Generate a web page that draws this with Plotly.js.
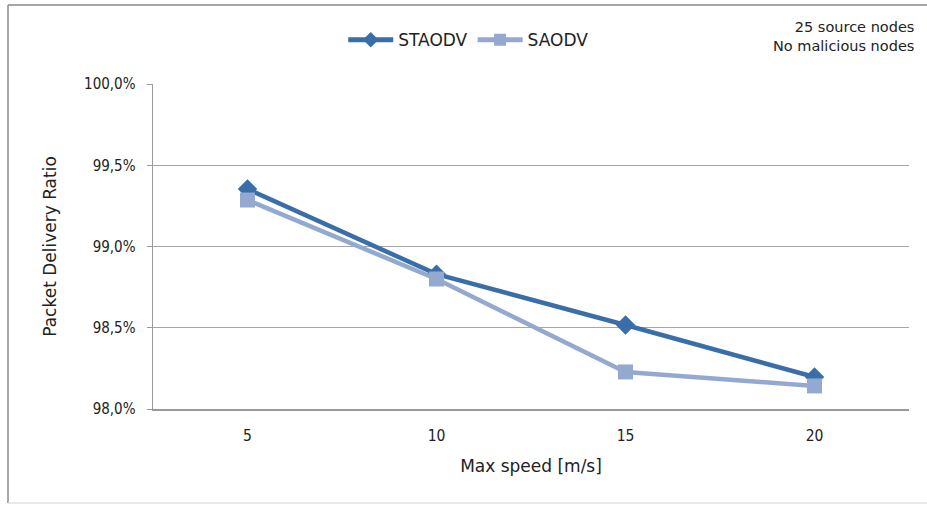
<!DOCTYPE html>
<html>
<head>
<meta charset="utf-8">
<script src="https://cdn.plot.ly/plotly-3.0.1.min.js"></script>
<style>html,body{margin:0;padding:0;background:#fff;}#chart{width:927px;height:505px;}</style>
</head>
<body>
<div id="chart"></div>
<script>
const speeds = ['5', '10', '15', '20'];
const staodv = [0.99354, 0.98830, 0.98517, 0.98197];
const saodv = [0.99286, 0.98800, 0.98228, 0.98142];
const yTicks = [0.98, 0.985, 0.99, 0.995, 1.0];

const fontC = '"DejaVu Sans Condensed", "DejaVu Sans", sans-serif';
const fontW = '"DejaVu Sans", sans-serif';
const data = [
  {x: speeds, y: staodv, name: 'STAODV', type: 'scatter', mode: 'lines+markers',
   line: {color: '#3A6EA8', width: 4.5}, marker: {symbol: 'diamond', size: 15, color: '#3A6EA8'}},
  {x: speeds, y: saodv, name: 'SAODV', type: 'scatter', mode: 'lines+markers',
   line: {color: '#94A9D0', width: 4.5}, marker: {symbol: 'square', size: 15, color: '#94A9D0'}}
];
const layout = {
  width: 927, height: 505,
  margin: {l: 153, r: 18, t: 84, b: 96, autoexpand: false},
  paper_bgcolor: '#fff', plot_bgcolor: '#fff',
  separators: ',.',
  font: {family: fontC, size: 15, color: '#222'},
  showlegend: true,
  legend: {orientation: 'h', x: 0.417, xanchor: 'center', y: 1.135, yanchor: 'middle',
           bgcolor: 'rgba(0,0,0,0)', itemsizing: 'constant',
           font: {family: fontW, size: 17, color: '#222'}, itemwidth: 45, tracegroupgap: 0},
  xaxis: {type: 'category', range: [-0.5, 3.5], showgrid: false, zeroline: false, showline: true,
          linecolor: '#9a9a9a', linewidth: 1.5, ticks: '', ticklabelstandoff: 12,
          tickfont: {family: fontC, size: 15.5},
          title: {text: 'Max speed [m/s]', font: {family: fontW, size: 17}, standoff: 16}},
  yaxis: {range: [0.98, 1.0], tickvals: yTicks, tickformat: '.1%', showgrid: true,
          gridcolor: '#a6a6a6', gridwidth: 1, zeroline: false, showline: true,
          linecolor: '#9a9a9a', linewidth: 1.5, ticks: 'outside', ticklen: 5,
          tickcolor: '#9a9a9a', ticklabelstandoff: 8, tickfont: {family: fontC, size: 15},
          title: {text: 'Packet Delivery Ratio', font: {family: fontW, size: 17}, standoff: 23}},
  annotations: [
    {xref: 'paper', yref: 'paper', x: 1.009, y: 1.147, xanchor: 'right', yanchor: 'middle',
     align: 'right', showarrow: false, text: '25 source nodes<br>No malicious nodes',
     font: {family: fontW, size: 14.5, color: '#222'}}
  ],
  shapes: [
    {type: 'line', xref: 'paper', yref: 'paper', x0: -0.1918, x1: -0.1918, y0: -0.289, y1: 1.243,
     line: {color: '#8a8a8a', width: 1.5}},
    {type: 'line', xref: 'paper', yref: 'paper', x0: -0.1918, x1: 1.1, y0: 1.243, y1: 1.243,
     line: {color: '#8a8a8a', width: 1.5}},
    {type: 'line', xref: 'paper', yref: 'paper', x0: -0.1918, x1: 1.1, y0: -0.289, y1: -0.289,
     line: {color: '#e0e0e0', width: 1.5}}
  ]
};
Plotly.newPlot('chart', data, layout, {displayModeBar: false, staticPlot: true});
</script>
</body>
</html>
